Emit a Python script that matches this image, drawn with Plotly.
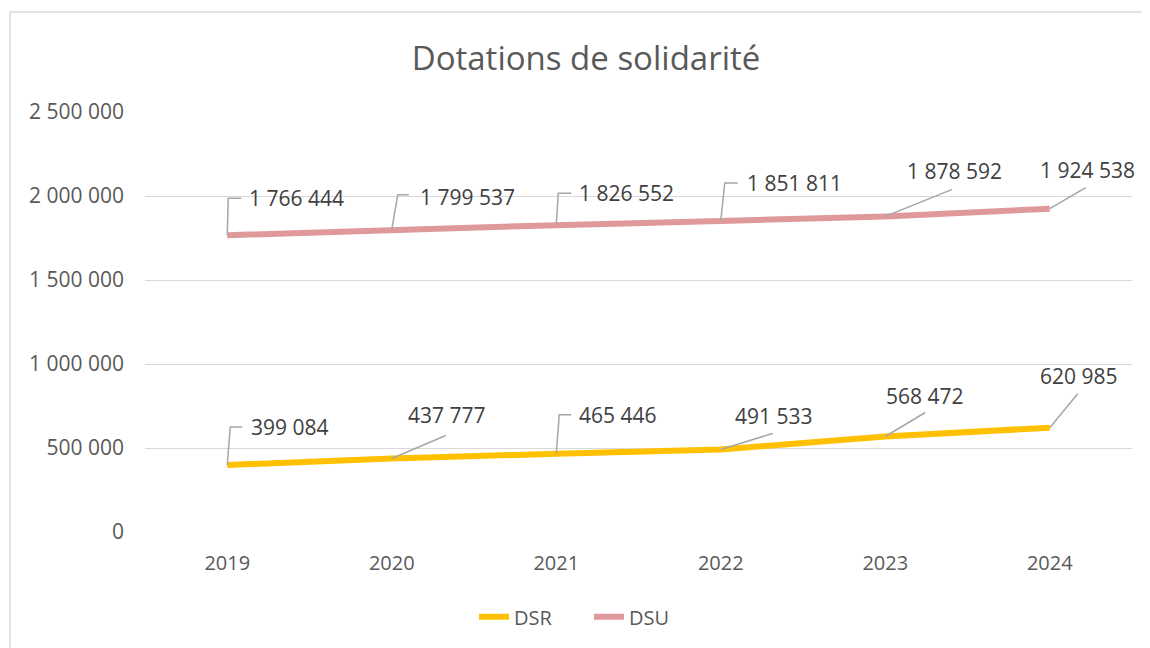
import plotly.graph_objects as go

years = ["2019", "2020", "2021", "2022", "2023", "2024"]
dsr = [399084, 437777, 465446, 491533, 568472, 620985]
dsu = [1766444, 1799537, 1826552, 1851811, 1878592, 1924538]
y_ticks = [0, 500000, 1000000, 1500000, 2000000, 2500000]

def fmt(v):
    return f"{v:,}".replace(",", " ")

# label placement (pixel offsets from point): label left/center, leader path
dsr_lbl = [(22, 38), (14, 43), (21, 39), (12, 33), (-1, 41), (-12, 52)]
dsr_lead = ["M0,0 L3,38 L15,38", "M0,0 L54,23", "M0,0 L3,39 L15,39",
            "M0,0 L52,16", "M0,0 L40,24", "M0,0 L28,34"]
dsu_lbl = [(20, 37), (26, 33), (21, 32), (24, 38), (20, 45), (-12, 39)]
dsu_lead = ["M0,0 L1,37 L14,37", "M0,0 L6,35 L17,35", "M0,0 L2,32 L15,32",
            "M0,0 L4,38 L17,38", "M0,0 L67,27", "M0,0 L36,21"]

FONT = "Open Sans"
xs = list(range(len(years)))

fig = go.Figure()
fig.add_trace(go.Scatter(x=xs, y=dsr, name="DSR", mode="lines",
                         line=dict(color="#FFC000", width=6)))
fig.add_trace(go.Scatter(x=xs, y=dsu, name="DSU", mode="lines",
                         line=dict(color="#E0999A", width=6)))

shapes = []
annotations = []
for series, lbls, leads in ((dsr, dsr_lbl, dsr_lead), (dsu, dsu_lbl, dsu_lead)):
    for i, v in enumerate(series):
        shapes.append(dict(type="path", xref="x", yref="y", xsizemode="pixel",
                           ysizemode="pixel", xanchor=xs[i], yanchor=v,
                           path=leads[i], line=dict(color="#A6A6A6", width=1.5)))
        annotations.append(dict(x=xs[i], y=v, xref="x", yref="y", text=fmt(v),
                                showarrow=False, xanchor="left", yanchor="middle",
                                xshift=lbls[i][0], yshift=lbls[i][1],
                                font=dict(family=FONT, size=21, color="#404040")))

# chart border
shapes.append(dict(type="rect", xref="paper", yref="paper",
                   x0=-0.1368, x1=1.2, y0=-0.5, y1=1.238,
                   line=dict(color="#D9D9D9", width=1.5), layer="below"))

fig.update_layout(
    width=1150, height=648,
    margin=dict(l=137, r=26, t=104, b=124),
    paper_bgcolor="white", plot_bgcolor="white",
    title=dict(text="Dotations de solidarité", x=578 / 1150, xanchor="center",
               y=1 - 50 / 648, yanchor="middle", xref="container", yref="container",
               font=dict(family=FONT, size=33, color="#595959")),
    xaxis=dict(range=[-0.5, 5.5], tickvals=xs, ticktext=years, showgrid=False,
               zeroline=False, showline=False, ticks="",
               ticklabelstandoff=17,
               tickfont=dict(family=FONT, size=20, color="#595959")),
    yaxis=dict(range=[0, 2500000], tickvals=y_ticks,
               ticktext=[fmt(t) for t in y_ticks], showgrid=True,
               gridcolor="#D9D9D9", gridwidth=1.3, zeroline=False, showline=False,
               ticks="", ticklabelstandoff=20,
               tickfont=dict(family=FONT, size=21, color="#595959")),
    legend=dict(orientation="h", x=(581 - 137) / 987, xanchor="center",
                y=-0.202, yanchor="middle", entrywidth=70,
                font=dict(family=FONT, size=20, color="#595959")),
    shapes=shapes, annotations=annotations,
)

fig.write_html("out.html")
